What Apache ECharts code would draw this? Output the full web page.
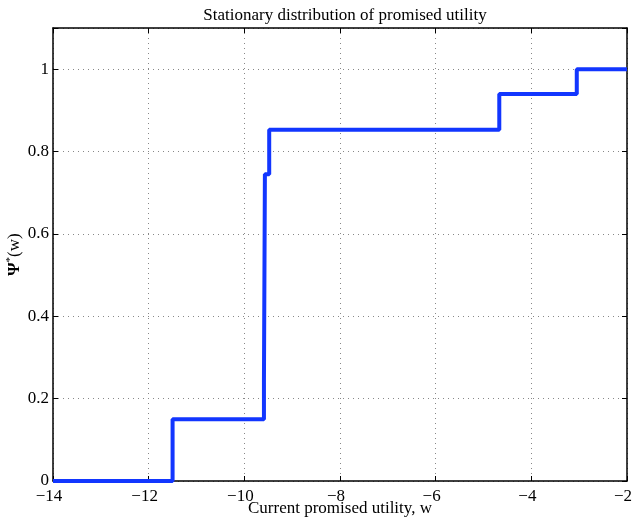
<!DOCTYPE html>
<html><head><meta charset="utf-8">
<script src="https://cdn.jsdelivr.net/npm/echarts@6/dist/echarts.min.js"></script>
<style>html,body{margin:0;padding:0;background:#fff}#c{width:634px;height:523px}</style>
</head><body><div id="c"></div>
<script>
const stepX = [-14, -11.5, -9.59, -9.57, -9.48, -4.67, -3.05, -2];
const stepY = [0, 0.15, 0.24, 0.745, 0.853, 0.94, 1.0, 1.0];
const xTicks = [-14, -12, -10, -8, -6, -4, -2];
const yTicks = [0, 0.2, 0.4, 0.6, 0.8, 1];

const font = 'Liberation Serif, Times New Roman, serif';
const fmtX = v => String(v).replace('-', '\u2212');
const chart = echarts.init(document.getElementById('c'));
const gridLine = {show: true, lineStyle: {color: '#888', type: [1, 4], width: 1}};
chart.setOption({
  animation: false,
  title: {text: 'Stationary distribution of promised utility', left: 340, textAlign: 'center', top: 2,
    textStyle: {fontFamily: font, fontSize: 17, fontWeight: 'normal', color: '#000'}},
  grid: {left: 53, right: 7, top: 28, bottom: 42, show: false, containLabel: false, outerBoundsMode: 'none'},
  xAxis: [{
    type: 'value', min: -14, max: -2, interval: 2,
    axisLine: {show: true, onZero: false, lineStyle: {color: '#000', width: 1.5}},
    axisTick: {show: true, inside: true, length: 5, lineStyle: {color: '#000'}},
    axisLabel: {fontFamily: font, fontSize: 17, color: '#000', margin: 7, padding: [0, 8, 0, 0], formatter: fmtX},
    splitLine: gridLine,
    name: 'Current promised utility, w', nameLocation: 'middle', nameGap: 19, nameMoveOverlap: false,
    nameTextStyle: {fontFamily: font, fontSize: 17, color: '#000'}
  }, {
    type: 'value', min: -14, max: -2, interval: 2, position: 'top',
    axisLine: {show: true, onZero: false, lineStyle: {color: '#000', width: 1.5}},
    axisTick: {show: true, inside: true, length: 5, lineStyle: {color: '#000'}},
    axisLabel: {show: false}, splitLine: {show: false}
  }],
  yAxis: [{
    type: 'value', min: 0, max: 1.1, interval: 0.2,
    axisLine: {show: true, onZero: false, lineStyle: {color: '#000', width: 1.5}},
    axisTick: {show: true, inside: true, length: 5, lineStyle: {color: '#000'}},
    axisLabel: {fontFamily: font, fontSize: 17, color: '#000', margin: 4,
      formatter: v => yTicks.some(t => Math.abs(t - v) < 1e-9) ? String(+v.toFixed(1)) : ''},
    splitLine: gridLine,
    name: '{a|Ψ}{b|*}{c|(w)}', nameLocation: 'middle', nameGap: 29, nameRotate: 90, nameMoveOverlap: false,
    nameTextStyle: {rich: {
      a: {fontFamily: font, fontSize: 17, fontWeight: 'bold', color: '#000'},
      b: {fontFamily: font, fontSize: 11, color: '#000', verticalAlign: 'top', padding: [0, 0, 8, 0]},
      c: {fontFamily: font, fontSize: 17, color: '#000'}
    }}
  }, {
    type: 'value', min: 0, max: 1.1, interval: 0.2, position: 'right',
    axisLine: {show: true, onZero: false, lineStyle: {color: '#000', width: 1.5}},
    axisTick: {show: true, inside: true, length: 5, lineStyle: {color: '#000'}},
    axisLabel: {show: false}, splitLine: {show: false}
  }],
  series: [{
    type: 'line', step: 'end', symbol: 'none',
    data: stepX.map((x, i) => [x, stepY[i]]),
    lineStyle: {color: '#1236ff', width: 4}
  }]
});
</script></body></html>
